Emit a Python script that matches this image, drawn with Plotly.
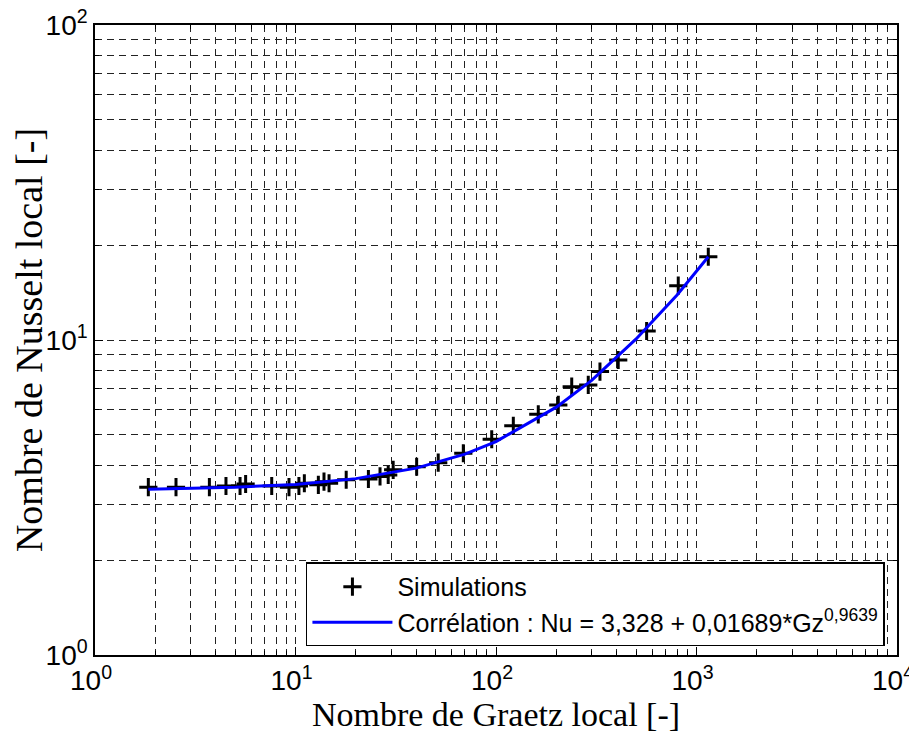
import plotly.graph_objects as go

# Simulation points
gz_sim = [1.845, 2.535, 3.72, 4.50, 5.29, 5.64, 7.61, 9.28, 10.4, 11.07, 13.0, 13.87,
          14.7, 17.9, 23.1, 26.4, 29.0, 30.7, 40.2, 51.5, 68.7, 95.2, 122, 162.5,
          204.5, 238.6, 288.5, 330, 407, 564, 811, 1145]
nu_sim = [3.41, 3.41, 3.41, 3.44, 3.44, 3.49, 3.44, 3.41, 3.44, 3.51, 3.47, 3.55,
          3.51, 3.60, 3.62, 3.69, 3.73, 3.87, 3.96, 4.08, 4.37, 4.84, 5.34, 5.81,
          6.22, 7.11, 7.20, 7.94, 8.64, 10.68, 14.87, 18.38]

# Correlation curve
gz_cor = [1.845, 5, 10, 20, 40, 70, 100, 200, 300, 500, 800, 1145]
nu_cor = [3.36, 3.41, 3.48, 3.63, 3.92, 4.34, 4.76, 6.12, 7.44, 10.08, 13.9, 18.38]

x_tickvals = [1, 10, 100, 1000, 10000]
x_ticktext = ["10<sup>0</sup>", "10<sup>1</sup>", "10<sup>2</sup>", "10<sup>3</sup>", "10<sup>4</sup>"]
y_tickvals = [1, 10, 100]
y_ticktext = ["10<sup>0</sup>", "10<sup>1</sup>", "10<sup>2</sup>"]

TICKFONT = dict(family="Liberation Sans, Arial", size=28, color="black")

fig = go.Figure()
fig.add_trace(go.Scatter(
    x=gz_sim, y=nu_sim, mode="markers", name="Simulations",
    legendgroup="a",
    marker=dict(symbol="cross-thin", size=13, color="black",
                line=dict(color="black", width=3)),
))
fig.add_trace(go.Scatter(
    x=gz_cor, y=nu_cor, mode="lines", legendgroup="b",
    name="Corrélation : Nu = 3,328 + 0,01689*Gz<sup>0,9639</sup>",
    line=dict(color="#0000ff", width=3),
))

axis_common = dict(
    type="log", showline=True, linecolor="black", linewidth=1.5, mirror="ticks",
    ticks="inside", ticklen=8, tickcolor="black", tickwidth=1,
    zeroline=False, automargin=False, ticklabeloverflow="allow",
    showgrid=True, gridcolor="#222222", gridwidth=1, griddash="7px,5px",
    minor=dict(ticks="inside", ticklen=4, tickcolor="black", dtick="D1",
               showgrid=True, gridcolor="#222222", gridwidth=1, griddash="7px,5px"),
)

fig.update_xaxes(range=[0, 4], tickmode="array", tickvals=x_tickvals, ticktext=x_ticktext,
                 tickfont=TICKFONT, ticklabelstandoff=0, ticklabelshift=-4,
                 title=dict(text="Nombre de Graetz local [-]",
                            font=dict(family="Liberation Serif, Times New Roman", size=34, color="black"),
                            standoff=0),
                 **axis_common)
fig.update_yaxes(range=[0, 2], tickmode="array", tickvals=y_tickvals, ticktext=y_ticktext,
                 tickfont=TICKFONT,
                 title=dict(text="Nombre de Nusselt local [-]",
                            font=dict(family="Liberation Serif, Times New Roman", size=38, color="black"),
                            standoff=14),
                 **axis_common)

# page body adds an 8 px offset, so the figure is sized to fit the window
fig.update_layout(
    width=909, height=734,
    margin=dict(l=87, r=20, t=17, b=87),
    paper_bgcolor="white", plot_bgcolor="white",
    font=dict(family="Liberation Sans, Arial", size=23, color="black"),
    showlegend=True,
    legend=dict(x=0.263, y=0.147, xanchor="left", yanchor="top",
                bgcolor="white", bordercolor="black", borderwidth=1.5,
                font=dict(family="Liberation Sans, Arial", size=25, color="black"),
                traceorder="grouped", tracegroupgap=0, itemwidth=80),
)

fig.write_html("out.html")
